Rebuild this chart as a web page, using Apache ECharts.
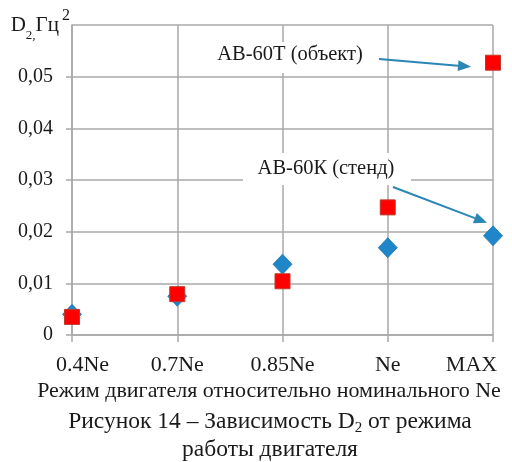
<!DOCTYPE html>
<html>
<head>
<meta charset="utf-8">
<script src="https://cdn.jsdelivr.net/npm/echarts@6/dist/echarts.min.js"></script>
<style>
  html, body { margin: 0; padding: 0; background: #ffffff; }
  #chart { width: 512px; height: 462px; }
</style>
</head>
<body>
<div id="chart"></div>
<script>
// Engine modes and measured D2 values for the two test setups
const modes = ['0.4Ne', '0.7Ne', '0.85Ne', 'Ne', 'MAX'];
const standValues = [0.0040, 0.0075, 0.0137, 0.0169, 0.0192];   // АВ-60К (стенд)
const objectValues = [0.0035, 0.0079, 0.0104, 0.0247, 0.0527];  // АВ-60Т (объект)
const yTicks = [0, 0.01, 0.02, 0.03, 0.04, 0.05, 0.06];

const SERIF = '"Liberation Serif", "Times New Roman", serif';
const GRID = '#a8a8a8';
const TEXT = '#1a1a1a';

const chart = echarts.init(document.getElementById('chart'), null, { renderer: 'canvas' });

const option = {
  animation: false,
  backgroundColor: '#ffffff',
  grid: { left: 72, right: 19, top: 25, bottom: 127 },
  xAxis: {
    type: 'category',
    data: modes,
    boundaryGap: false,
    axisLine: { lineStyle: { color: GRID, width: 1.5 } },
    axisTick: { show: true, interval: 0, length: 7, lineStyle: { color: GRID, width: 1.5 } },
    splitLine: { show: true, interval: 0, lineStyle: { color: GRID, width: 1.5 } },
    axisLabel: {
      interval: 0,
      hideOverlap: false,
      color: TEXT, fontFamily: SERIF, fontSize: 22, margin: 19,
      // first and last labels are nudged inwards so they stay inside the frame
      formatter: (v, i) => (i === 0 ? '{first|' + v + '}' : i === modes.length - 1 ? '{last|' + v + '}' : v),
      rich: {
        first: { color: TEXT, fontFamily: SERIF, fontSize: 22, padding: [0, 0, 0, 21] },
        last: { color: TEXT, fontFamily: SERIF, fontSize: 22, padding: [0, 43, 0, 0] }
      }
    }
  },
  yAxis: {
    type: 'value',
    min: yTicks[0],
    max: yTicks[yTicks.length - 1],
    interval: 0.01,
    name: '{a|D}{s|2,}{a|Гц}{p|2}',
    nameLocation: 'end',
    nameGap: 0,
    nameTextStyle: {
      align: 'right',
      verticalAlign: 'middle',
      padding: [0, 2, 0, 0],
      rich: {
        a: { fontFamily: SERIF, fontSize: 21, color: TEXT, lineHeight: 34, verticalAlign: 'middle' },
        s: { fontFamily: SERIF, fontSize: 13, color: TEXT, lineHeight: 34, verticalAlign: 'bottom' },
        p: { fontFamily: SERIF, fontSize: 16, color: TEXT, lineHeight: 34, verticalAlign: 'top', padding: [0, 0, 0, 3] }
      }
    },
    axisLine: { show: true, lineStyle: { color: GRID, width: 1.5 } },
    axisTick: { show: true, length: 6, lineStyle: { color: GRID, width: 1.5 } },
    splitLine: { show: true, lineStyle: { color: GRID, width: 1.5 } },
    axisLabel: {
      color: TEXT, fontFamily: SERIF, fontSize: 20, margin: 19,
      showMaxLabel: false,
      formatter: v => (v === 0 ? '0' : v.toFixed(2).replace('.', ','))
    }
  },
  series: [
    {
      name: 'АВ-60К (стенд)',
      type: 'scatter',
      data: standValues,
      symbol: 'diamond',
      symbolSize: [19, 20],
      itemStyle: { color: '#1f87c9', borderColor: '#1a76b0', borderWidth: 0.8, opacity: 1 },
      z: 3
    },
    {
      name: 'АВ-60Т (объект)',
      type: 'scatter',
      data: objectValues,
      symbol: 'rect',
      symbolSize: 15,
      itemStyle: { color: '#ff0000', borderColor: '#c0392b', borderWidth: 1, opacity: 1 },
      z: 4
    }
  ]
};

chart.setOption(option);

// Callout labels with arrows pointing at the MAX points of each series
function arrow(x1, y1, x2, y2, color) {
  const ang = Math.atan2(y2 - y1, x2 - x1);
  const L = 13, W = 5.5;
  const bx = x2 - L * Math.cos(ang), by = y2 - L * Math.sin(ang);
  const px = -Math.sin(ang) * W, py = Math.cos(ang) * W;
  return [
    { type: 'line', shape: { x1, y1, x2: bx, y2: by }, style: { stroke: color, lineWidth: 2 }, z: 10 },
    { type: 'polygon', shape: { points: [[x2, y2], [bx + px, by + py], [bx - px, by - py]] }, style: { fill: color }, z: 10 }
  ];
}

const last = modes.length - 1;
const pObj = chart.convertToPixel({ seriesIndex: 1 }, [last, objectValues[last]]);
const pStand = chart.convertToPixel({ seriesIndex: 0 }, [last, standValues[last]]);
const ARROW = '#2a86b5';

const graphics = [
  { type: 'rect', shape: { x: 205, y: 42, width: 170, height: 31 }, style: { fill: '#ffffff' }, z: 8 },
  { type: 'text', x: 290, y: 55, style: { text: 'АВ-60Т (объект)', font: '20.5px ' + SERIF, fill: TEXT, textAlign: 'center', textVerticalAlign: 'middle' }, z: 9 },
  { type: 'rect', shape: { x: 243, y: 153, width: 168, height: 32 }, style: { fill: '#ffffff' }, z: 8 },
  { type: 'text', x: 326, y: 169, style: { text: 'АВ-60К (стенд)', font: '20.5px ' + SERIF, fill: TEXT, textAlign: 'center', textVerticalAlign: 'middle' }, z: 9 },
  ...arrow(379, 59, pObj[0] - 22, pObj[1] + 4, ARROW),
  ...arrow(393, 187, pStand[0] - 6, pStand[1] - 13, ARROW),
  // axis title and figure caption below the plot
  { type: 'text', x: 269, y: 391.5, style: { text: 'Режим двигателя относительно номинального Ne', font: '22px ' + SERIF, fill: TEXT, textAlign: 'center', textVerticalAlign: 'middle' } },
  {
    type: 'text', x: 270, y: 422,
    style: {
      text: '{a|Рисунок 14 – Зависимость D}{s|2}{a| от режима}',
      textAlign: 'center', textVerticalAlign: 'middle',
      rich: {
        a: { font: '23.5px ' + SERIF, fill: TEXT, lineHeight: 28, verticalAlign: 'middle' },
        s: { font: '15px ' + SERIF, fill: TEXT, lineHeight: 28, verticalAlign: 'bottom' }
      }
    }
  },
  { type: 'text', x: 270, y: 450, style: { text: 'работы двигателя', font: '23.5px ' + SERIF, fill: TEXT, textAlign: 'center', textVerticalAlign: 'middle' } }
];

chart.setOption({ graphic: graphics });
</script>
</body>
</html>
